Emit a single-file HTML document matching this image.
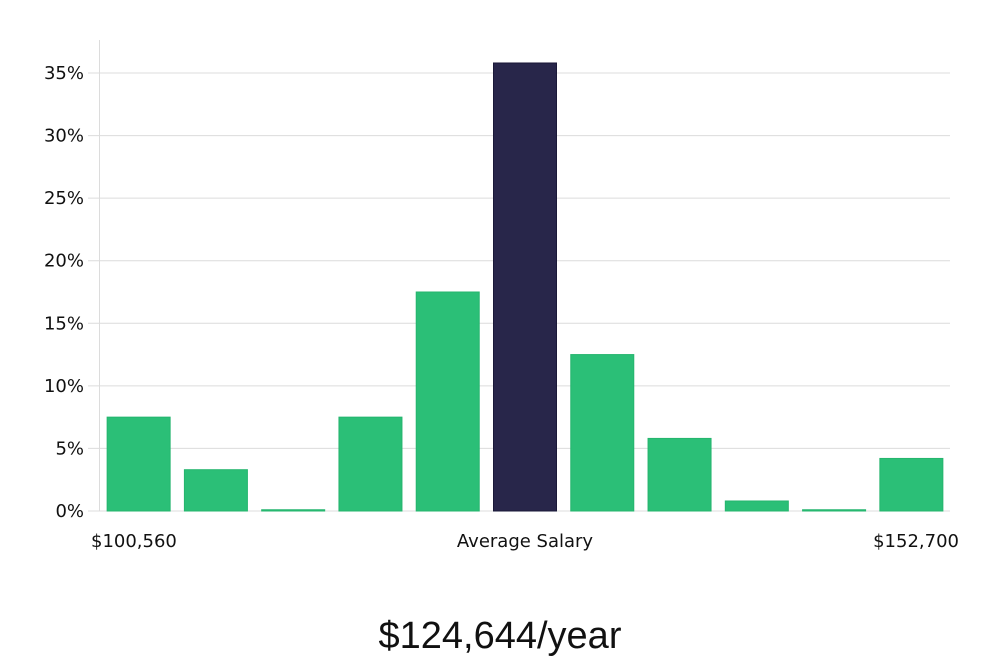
<!DOCTYPE html>
<html><head><meta charset="utf-8"><style>
html,body{margin:0;padding:0;background:#fff;}
svg text{font-family:"DejaVu Sans","Liberation Sans",sans-serif;}
</style></head><body>
<svg id="chart" width="1000" height="660" xmlns="http://www.w3.org/2000/svg">
<g id="grid"></g>
<g id="bars"></g>
<g id="yaxis"></g>
<text x="91" y="547" font-size="18" fill="#111">$100,560</text>
<text x="525" y="547" font-size="18" fill="#111" text-anchor="middle">Average Salary</text>
<text x="959" y="547" font-size="18" fill="#111" text-anchor="end">$152,700</text>
<text x="500" y="648" font-size="38" fill="#111" text-anchor="middle" style="font-family:'Liberation Sans',sans-serif;font-weight:300">$124,644/year</text>
</svg>
<script>
const categories = ["b1","b2","b3","b4","b5","b6","b7","b8","b9","b10","b11"];
const values = [7.5, 3.3, 0.1, 7.5, 17.5, 35.8, 12.5, 5.8, 0.8, 0.1, 4.2];
const highlightIndex = 5;
const yTicks = [0,5,10,15,20,25,30,35];
const yTickLabels = ["0%","5%","10%","15%","20%","25%","30%","35%"];
const NS="http://www.w3.org/2000/svg";
const x0=100,x1=950,yBase=511,pxPerPct=(511-73)/35;
const y=v=>yBase-v*pxPerPct;
const step=(x1-x0)/categories.length;
const bw=63;
function mk(t,a){const e=document.createElementNS(NS,t);for(const k in a)e.setAttribute(k,a[k]);return e;}
const grid=document.getElementById('grid'),bars=document.getElementById('bars'),ya=document.getElementById('yaxis');
yTicks.forEach((t,i)=>{
  const l=mk('line',{x1:88,x2:950,y1:y(t),y2:y(t),stroke:'#dcdcdc','stroke-width':1});
  
  
  grid.appendChild(l);
  const tx=mk('text',{x:84,y:y(t)+6,'font-size':18,fill:'#111','text-anchor':'end'});
  tx.textContent=yTickLabels[i];
  
  
  ya.appendChild(tx);
});
const ax=mk('line',{x1:99.5,x2:99.5,y1:40,y2:511,stroke:'#dcdcdc','stroke-width':1});


ya.appendChild(ax);
values.forEach((v,i)=>{
  const cx=x0+step*(i+0.5);
  const hi=i===highlightIndex;
  const h=Math.max(v*pxPerPct,1);
  const r=mk('rect',{x:cx-bw/2,y:yBase-h,width:bw,height:h,fill:hi?'#28264a':'#2bbf77',stroke:hi?'#1a1838':'#25b56e','stroke-width':1});
  
  
  bars.appendChild(r);
});
</script>
</body></html>
